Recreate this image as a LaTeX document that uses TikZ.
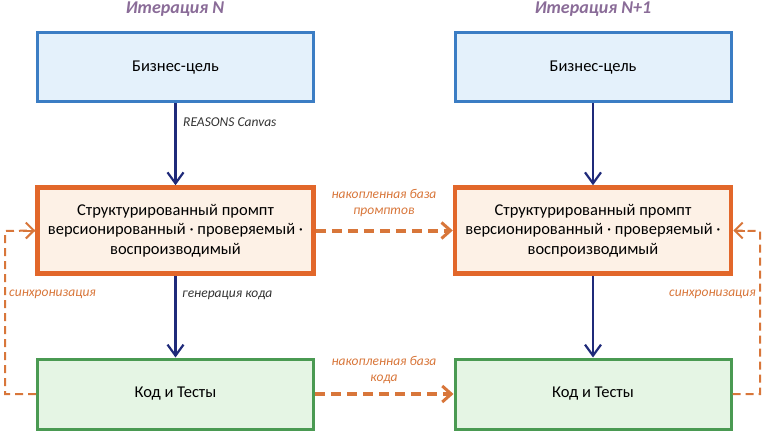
\documentclass[tikz,border=0pt]{standalone}
\usepackage{fontspec}
\setmainfont{Carlito}
\usetikzlibrary{arrows.meta}

\definecolor{goalfill}{HTML}{E4F1FB}
\definecolor{goalline}{HTML}{3B7DC4}
\definecolor{promptfill}{HTML}{FDF1E6}
\definecolor{promptline}{HTML}{E2672A}
\definecolor{codefill}{HTML}{E5F5E4}
\definecolor{codeline}{HTML}{4A9A52}
\definecolor{flowblue}{HTML}{1F2A7A}
\definecolor{syncorange}{HTML}{D8763A}
\definecolor{titlepurple}{HTML}{8A6C98}

\tikzset{
  box/.style={rectangle, minimum width=276pt, align=center, inner sep=0pt,
    font=\fontsize{16.5}{19.5}\selectfont},
  goalbox/.style={box, draw=goalline, fill=goalfill, line width=3pt, minimum height=69pt},
  promptbox/.style={box, draw=promptline, fill=promptfill, line width=4.5pt, minimum height=86pt},
  codebox/.style={box, draw=codeline, fill=codefill, line width=3pt, minimum height=70pt},
  flow/.style={draw=flowblue, line width=2.2pt, -{Straight Barb[length=11pt,width=16pt,line width=2.2pt]}},
  carry/.style={draw=syncorange, line width=4pt, dash pattern=on 10pt off 6pt,
    -{Straight Barb[length=9pt,width=16pt,line width=3pt]}},
  sync/.style={draw=syncorange, line width=2pt, dash pattern=on 8pt off 5pt},
  note/.style={font=\fontsize{13.5}{15.5}\selectfont\itshape, inner sep=0pt},
  title/.style={font=\fontsize{18}{20}\selectfont\bfseries\itshape, text=titlepurple}
}

\begin{document}
\begin{tikzpicture}[x=1pt,y=-1pt]
    \useasboundingbox (0,0) rectangle (768,433);

    \node[title] (titleN) at (175,9) {Итерация N};
    \node[title] (titleM) at (593,9) {Итерация N+1};

    \node[goalbox] (goalN) at (175.5,67.5) {Бизнес-цель};
    \node[promptbox] (promptN) at (175.5,230.5) {Структурированный промпт\\версионированный · проверяемый ·\\воспроизводимый};
    \node[codebox] (codeN) at (175.5,394) {Код и Тесты};

    \node[goalbox] (goalM) at (593,67.5) {Бизнес-цель};
    \node[promptbox] (promptM) at (593,230.5) {Структурированный промпт\\версионированный · проверяемый ·\\воспроизводимый};
    \node[codebox] (codeM) at (593,394) {Код и Тесты};

    \draw[flow] (goalN) -- (promptN);
    \draw[flow] (promptN) -- (codeN);
    \draw[flow] (goalM) -- (promptM);
    \draw[flow] (promptM) -- (codeM);

    \node[note, text=black!80, anchor=west] (canvasN) at (183,122) {REASONS Canvas};
    \node[note, text=black!80, anchor=west] (genN) at (182,295) {генерация кода};

    \draw[carry] (promptN) -- (promptM);
    \draw[carry] (codeN) -- (codeM);
    \node[note, text=syncorange, align=center] (baseprompt) at (384,203) {накопленная база\\промптов};
    \node[note, text=syncorange, align=center] (basecode) at (384,370) {накопленная база\\кода};

    \coordinate (syncNa) at (5,394);
    \coordinate (syncNb) at (5,231);
    \coordinate (syncMa) at (760,394);
    \coordinate (syncMb) at (760,231);
    \draw[sync] (codeN.west) -- (syncNa) -- (syncNb) -- (promptN.west);
    \draw[sync] (codeM.east) -- (syncMa) -- (syncMb) -- (promptM.east);
    \draw[draw=syncorange, line width=2pt, -{Straight Barb[length=8pt,width=16pt,line width=2pt]}] (promptN.west) ++(-12,0) -- (promptN.west);
    \draw[draw=syncorange, line width=2pt, -{Straight Barb[length=8pt,width=16pt,line width=2pt]}] (promptM.east) ++(12,0) -- (promptM.east);
    \node[note, text=syncorange, anchor=west] (syncN) at (9,294) {синхронизация};
    \node[note, text=syncorange, anchor=east] (syncM) at (756,294) {синхронизация};
\end{tikzpicture}
\end{document}
